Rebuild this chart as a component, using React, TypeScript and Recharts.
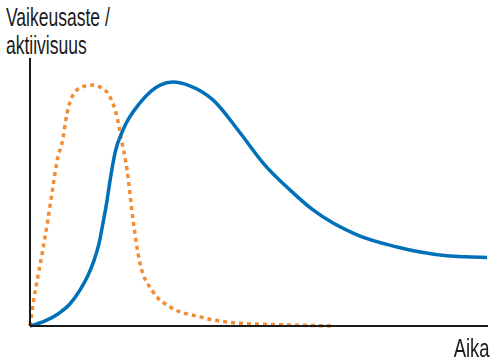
import React from 'react';
import { LineChart, Line, XAxis, YAxis } from 'recharts';

// time (0-100) and level (0-100)
const severityTime = [0, 3.3, 6.1, 8.7, 10.9, 12.7, 14.0, 15.1, 15.9, 16.8, 17.5, 18.6, 20.3, 24.0, 28.4, 31.2, 34.9, 40.0, 45.9, 50.9, 56.8, 61.8, 71.4, 80.1, 85.2, 91.0, 95.4, 99.8];
const severityLevel = [0, 1.9, 4.5, 8.2, 13.4, 19.0, 24.6, 31.0, 38.1, 46.6, 54.5, 64.9, 73.1, 83.2, 89.9, 91.0, 89.6, 84.3, 72.0, 60.8, 50.7, 43.3, 34.0, 29.5, 27.6, 26.2, 25.8, 25.6];

const activityTime = [0, 0.7, 1.7, 2.8, 3.9, 5.0, 6.1, 7.0, 8.1, 9.4, 11.4, 13.5, 15.7, 17.5, 19.0, 20.1, 21.2, 22.5, 24.0, 26.9, 30.6, 37.1, 45.2, 56.1, 66.6];
const activityLevel = [0, 8.6, 18.3, 28.4, 39.6, 51.9, 63.1, 68.3, 79.5, 86.2, 89.2, 89.9, 88.8, 85.4, 78.0, 68.3, 58.2, 39.6, 23.5, 12.7, 7.1, 3.4, 1.1, 0.4, 0];

const yLabel = ['Vaikeusaste /', 'aktiivisuus'];
const xLabel = 'Aika';

const severityData = severityTime.map((t, i) => ({ t, v: severityLevel[i] }));
const activityData = activityTime.map((t, i) => ({ t, v: activityLevel[i] }));

const labelStyle: React.CSSProperties = {
    position: 'absolute',
    fontFamily: '"Liberation Sans", Arial, sans-serif',
    fontSize: 25,
    lineHeight: '28px',
    color: '#1a1a1a',
    whiteSpace: 'nowrap',
};

const App: React.FC = () => {
    return (
        <div style={{ position: 'fixed', left: 0, top: 0, width: 491, height: 361, background: '#fff' }}>
            <LineChart width={491} height={361} margin={{ top: 58, right: 3, left: 28, bottom: 33 }}>
                <XAxis
                    type="number"
                    dataKey="t"
                    domain={[0, 100]}
                    height={2}
                    tick={false}
                    tickLine={false}
                    axisLine={{ stroke: '#1a1a1a', strokeWidth: 2 }}
                />
                <YAxis
                    type="number"
                    dataKey="v"
                    domain={[0, 100]}
                    width={2}
                    tick={false}
                    tickLine={false}
                    axisLine={{ stroke: '#1a1a1a', strokeWidth: 2 }}
                />
                <Line
                    data={activityData}
                    type="monotone"
                    dataKey="v"
                    stroke="#f28c35"
                    strokeWidth={3.5}
                    strokeDasharray="4 4"
                    dot={false}
                    isAnimationActive={false}
                />
                <Line
                    data={severityData}
                    type="monotone"
                    dataKey="v"
                    stroke="#0071b9"
                    strokeWidth={3.5}
                    dot={false}
                    isAnimationActive={false}
                />
            </LineChart>
            <div style={{ ...labelStyle, left: 6, top: 3, transform: 'scaleX(0.7)', transformOrigin: 'left top' }}>
                {yLabel.map((l) => <div key={l}>{l}</div>)}
            </div>
            <div style={{ ...labelStyle, right: 1, top: 334, transform: 'scaleX(0.74)', transformOrigin: 'right top' }}>
                {xLabel}
            </div>
        </div>
    );
};

export default App;
